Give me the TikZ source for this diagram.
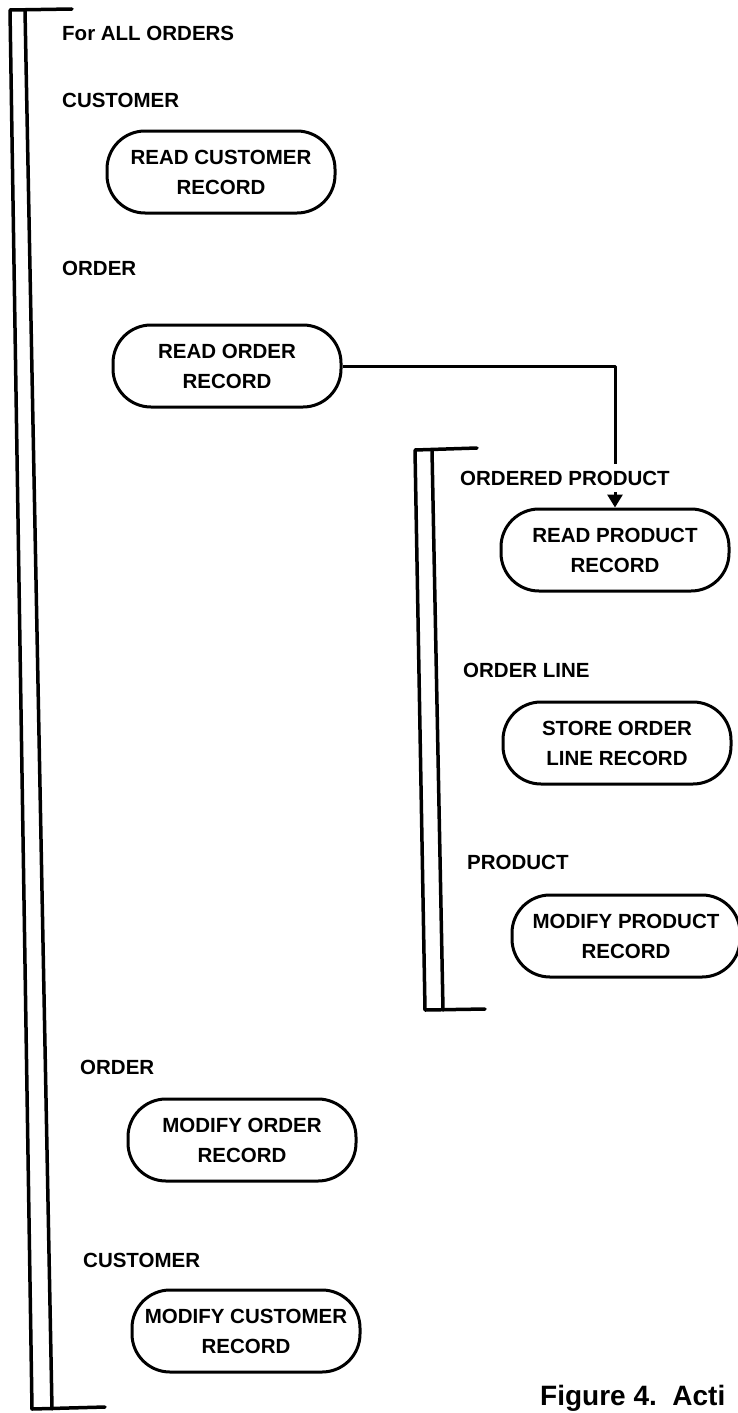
\documentclass[tikz,border=0pt]{standalone}
\usepackage{fontspec}
\setmainfont{Liberation Sans}
\usetikzlibrary{arrows.meta}

\begin{document}
\begin{tikzpicture}[x=1pt, y=-1pt,
		every node/.style={font=\fontsize{20.5}{30}\selectfont\bfseries},
		action/.style={draw, line width=3pt, rounded corners=38pt,
			align=center, minimum width=228pt, minimum height=82pt,
			inner sep=0pt},
		entity/.style={anchor=west, inner sep=0pt},
		bracket/.style={line width=3.5pt, line cap=round, line join=round},
		flowline/.style={-{Triangle[width=15pt,length=13pt]},
			line width=3pt, line join=round}]
		\useasboundingbox (0,0) rectangle (738,1413);

		% The outer iteration bracket (the scan leans a little).
		\coordinate (OT) at (10,10);
		\coordinate (OB) at (32,1409);
		\draw[bracket] (72,9) -- (OT) -- (OB) -- (105,1407);
		\draw[bracket] (25,10) -- (52,1409);

		\node[entity] (forall) at (62,33) {For ALL ORDERS};

		\node[entity] (cust) at (62,100) {CUSTOMER};
		\node[action] (rdcust) at (221,172) {READ CUSTOMER\\RECORD};

		\node[entity] (ord) at (62,268) {ORDER};
		\node[action] (rdord) at (227,366) {READ ORDER\\RECORD};

		% The inner iteration bracket, one pass per ordered product.
		\coordinate (IT) at (415,450);
		\coordinate (IB) at (425,1010);
		\draw[bracket] (477,448) -- (IT) -- (IB) -- (485,1009);
		\draw[bracket] (432,450) -- (443,1010);

		\node[action] (rdprod) at (615,550) {READ PRODUCT\\RECORD};

		\node[entity] (ordline) at (463,670) {ORDER LINE};
		\node[action] (storeline) at (617,743) {STORE ORDER\\LINE RECORD};

		\node[entity] (prod) at (467,862) {PRODUCT};
		\node[action] (modprod) at (626,936) {MODIFY PRODUCT\\RECORD};

		% Order record leads to the product read.
		\draw[flowline] (rdord.east) -| (rdprod.north);
		\node[entity, fill=white, inner ysep=7pt] (ordprod) at (460,478)
			{ORDERED PRODUCT};

		\node[entity] (ord2) at (80,1067) {ORDER};
		\node[action] (modord) at (242,1140) {MODIFY ORDER\\RECORD};

		\node[entity] (cust2) at (83,1260) {CUSTOMER};
		\node[action] (modcust) at (246,1331) {MODIFY CUSTOMER\\RECORD};

		\node[anchor=base west, inner sep=0pt,
			font=\fontsize{28}{28}\selectfont\bfseries] (caption)
			at (540,1405) {Figure 4.\ \ Acti};
	\end{tikzpicture}
\end{document}
